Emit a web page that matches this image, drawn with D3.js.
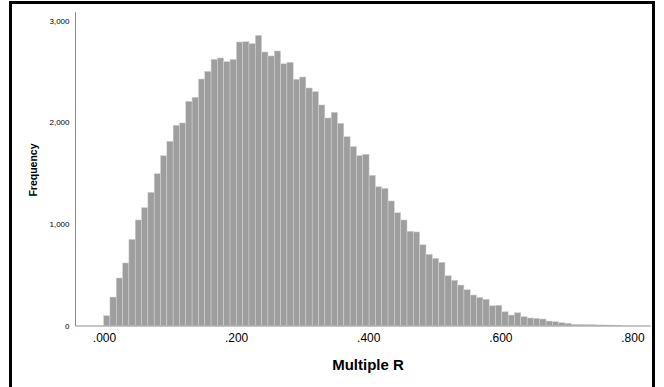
<!DOCTYPE html>
<html>
<head>
<meta charset="utf-8">
<script src="https://cdn.jsdelivr.net/npm/d3@7"></script>
<style>
  html, body { margin: 0; padding: 0; background: #fff; }
  svg { display: block; }
  text { font-family: "Liberation Sans", Arial, sans-serif; }
</style>
</head>
<body>
<svg id="chart" width="664" height="387"></svg>
<script>
// ---- data ----
const binStart = -0.0006;
const binWidth = 0.00957;
const frequencies = [
  96, 280, 467, 615, 848, 1038, 1159, 1310, 1493, 1670,
  1812, 1969, 1992, 2205, 2245, 2424, 2500, 2618, 2631, 2595,
  2618, 2788, 2791, 2772, 2854, 2690, 2651, 2700, 2575, 2589,
  2422, 2444, 2336, 2300, 2169, 2041, 2097, 1989, 1857, 1761,
  1672, 1684, 1477, 1365, 1349, 1225, 1109, 1038, 927, 920,
  795, 700, 661, 622, 490, 445, 398, 352, 300, 277,
  258, 195, 199, 136, 103, 126, 87, 74, 71, 64,
  44, 37, 28, 22, 12, 12, 10, 9, 6, 5,
  4, 3
];
const xTickValues = [0, 0.2, 0.4, 0.6, 0.8];
const xTickLabels = [".000", ".200", ".400", ".600", ".800"];
const yTickValues = [0, 1000, 2000, 3000];
const yTickLabels = ["0", "1,000", "2,000", "3,000"];
const xTitle = "Multiple R";
const yTitle = "Frequency";

// ---- layout ----
const svg = d3.select("#chart");
const x = d3.scaleLinear().domain([-0.0439, 0.8266]).range([75, 650]);
const y = d3.scaleLinear().domain([0, 3086]).range([325.5, 11.7]);

// frame
svg.append("rect")
  .attr("x", 10.5).attr("y", 2.5)
  .attr("width", 643).attr("height", 420)
  .attr("fill", "none").attr("stroke", "#000").attr("stroke-width", 3);

// bars
svg.append("g").selectAll("rect")
  .data(frequencies)
  .join("rect")
  .attr("x", (d, i) => x(binStart + i * binWidth))
  .attr("width", (d, i) => x(binStart + (i + 1) * binWidth) - x(binStart + i * binWidth))
  .attr("y", d => y(d))
  .attr("height", d => y(0) - y(d))
  .attr("fill", "#9e9e9e")
  .attr("stroke", "#d6d6d6")
  .attr("stroke-width", 0.5);

// axes
const yAxis = d3.axisLeft(y)
  .tickValues(yTickValues)
  .tickFormat((d, i) => yTickLabels[i])
  .tickSizeInner(0).tickSizeOuter(0).tickPadding(5.5);
const gy = svg.append("g").attr("transform", "translate(75,0)").call(yAxis);
gy.select(".domain").attr("stroke", "#8c8c8c").attr("stroke-width", 1);
gy.selectAll("text").attr("font-size", 8).attr("fill", "#000")
  .attr("font-family", "Liberation Sans, Arial, sans-serif");

const xAxis = d3.axisBottom(x)
  .tickValues(xTickValues)
  .tickFormat((d, i) => xTickLabels[i])
  .tickSizeInner(0).tickSizeOuter(0).tickPadding(8);
const gx = svg.append("g").attr("transform", "translate(0,325.5)").call(xAxis);
gx.select(".domain").attr("stroke", "#8c8c8c").attr("stroke-width", 1);
gx.selectAll("text").attr("font-size", 12).attr("fill", "#000")
  .attr("font-family", "Liberation Sans, Arial, sans-serif");

// titles
svg.append("text")
  .attr("x", 368).attr("y", 370)
  .attr("text-anchor", "middle")
  .attr("font-size", 15).attr("font-weight", "bold")
  .text(xTitle);

svg.append("text")
  .attr("transform", "translate(37,170) rotate(-90)")
  .attr("text-anchor", "middle")
  .attr("font-size", 10.5).attr("font-weight", "bold")
  .text(yTitle);
</script>
</body>
</html>
